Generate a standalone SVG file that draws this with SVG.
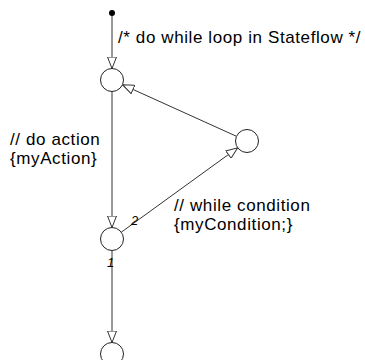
<svg xmlns="http://www.w3.org/2000/svg" width="365" height="360" viewBox="0 0 365 360">
  <style>
    .junction { fill: #ffffff; stroke: #222222; stroke-width: 1; }
    .wire { fill: none; stroke: #333333; stroke-width: 1; }
    .label { font-family: "Liberation Sans", Arial, sans-serif; font-size: 17px; fill: #000000; letter-spacing: 0.6px; }
    .order { font-family: "Liberation Sans", Arial, sans-serif; font-size: 13px; font-style: italic; fill: #000000; }
  </style>
  <defs>
    <marker id="open-arrow" viewBox="0 0 12 10" refX="12" refY="5" markerWidth="12" markerHeight="10" markerUnits="userSpaceOnUse" orient="auto">
      <path d="M0.5,0.5 L12,5 L0.5,9.5 Z" fill="#ffffff" stroke="#333333" stroke-width="1"/>
    </marker>
  </defs>

  <rect width="365" height="360" fill="#ffffff"/>

  <!-- transitions -->
  <g id="connectors">
    <line class="wire" x1="112" y1="14" x2="112" y2="68.5" marker-end="url(#open-arrow)"/>
    <line class="wire" x1="112" y1="91.5" x2="112" y2="227.5" marker-end="url(#open-arrow)"/>
    <line class="wire" x1="236.5" y1="136.3" x2="122.5" y2="84.7" marker-end="url(#open-arrow)"/>
    <line class="wire" x1="121.3" y1="232.2" x2="237.7" y2="147.8" marker-end="url(#open-arrow)"/>
    <line class="wire" x1="112" y1="250.5" x2="112" y2="342.5" marker-end="url(#open-arrow)"/>
  </g>

  <!-- default transition source -->
  <g id="default-dot">
    <circle cx="112" cy="13" r="3" fill="#000000"/>
  </g>

  <!-- junctions -->
  <g id="junction-top">
    <circle class="junction" cx="112" cy="80" r="11.5"/>
  </g>
  <g id="junction-right">
    <circle class="junction" cx="247" cy="141" r="11.5"/>
  </g>
  <g id="junction-middle">
    <circle class="junction" cx="112" cy="239" r="11.5"/>
  </g>
  <g id="junction-bottom">
    <circle class="junction" cx="112" cy="354" r="11.5"/>
  </g>

  <!-- transition labels -->
  <g id="labels">
    <text class="label" x="118" y="43">/* do while loop in Stateflow */</text>
    <text class="label" x="10" y="145">// do action</text>
    <text class="label" x="10" y="164">{myAction}</text>
    <text class="label" x="174" y="211">// while condition</text>
    <text class="label" x="174" y="230">{myCondition;}</text>
    <text class="order" x="131" y="225">2</text>
    <text class="order" x="107" y="267">1</text>
  </g>
</svg>
